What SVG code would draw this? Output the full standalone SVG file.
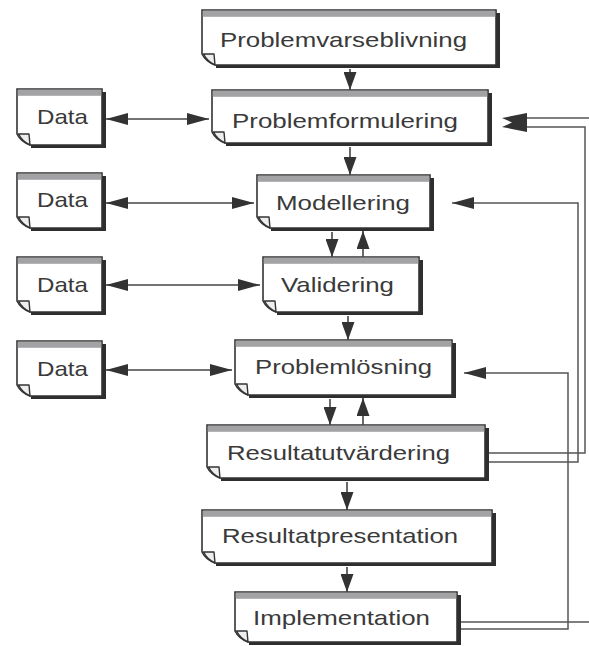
<svg xmlns="http://www.w3.org/2000/svg" width="589" height="646" viewBox="0 0 589 646">
<defs>
<style>
.sh{fill:#2e2e2e}
.bx{fill:#fff;stroke:#333;stroke-width:1.6}
.bd{fill:#a3a3a6}
.fl{fill:#eee;stroke:#333;stroke-width:1.4;stroke-linejoin:round}
.tx{font-family:"Liberation Sans",Arial,Helvetica,sans-serif;font-size:21px;fill:#3a3a3a}
.ln{fill:none;stroke:#444;stroke-width:1.6}
.dl{fill:none;stroke:#555;stroke-width:1.5}
</style>
<marker id="ah" viewBox="0 0 18 13" refX="18" refY="6.5" markerWidth="18" markerHeight="13" markerUnits="userSpaceOnUse" orient="auto-start-reverse"><path d="M0,0 L18,6.5 L0,13 Z" fill="#333"/></marker>
<marker id="ahh" viewBox="0 0 22 12" refX="22" refY="6" markerWidth="22" markerHeight="12" markerUnits="userSpaceOnUse" orient="auto-start-reverse"><path d="M0,0 L22,6 L0,12 Z" fill="#333"/></marker>
</defs>
<rect width="589" height="646" fill="#fff"/>

<g id="n1" transform="translate(202,10)">
<rect class="sh" x="14" y="3" width="284" height="55"/>
<path class="bx" d="M0,0 H294 V55 H13 Q4,52 0,44 Z"/>
<rect class="bd" x="0.8" y="0.8" width="292.4" height="6"/>
<path class="fl" d="M1.5,44 H12 L13,55 Q5,51 1.5,44 Z"/>
<text class="tx" x="18" y="37" textLength="247" lengthAdjust="spacingAndGlyphs">Problemvarseblivning</text>
</g>

<g id="n2" transform="translate(212,90)">
<rect class="sh" x="14" y="3" width="266" height="53"/>
<path class="bx" d="M0,0 H276 V53 H13 Q4,50 0,42 Z"/>
<rect class="bd" x="0.8" y="0.8" width="274.4" height="6"/>
<path class="fl" d="M1.5,42 H12 L13,53 Q5,49 1.5,42 Z"/>
<text class="tx" x="20" y="38" textLength="226" lengthAdjust="spacingAndGlyphs">Problemformulering</text>
</g>

<g id="n3" transform="translate(257,175)">
<rect class="sh" x="14" y="3" width="163" height="53"/>
<path class="bx" d="M0,0 H173 V53 H13 Q4,50 0,42 Z"/>
<rect class="bd" x="0.8" y="0.8" width="171.4" height="6"/>
<path class="fl" d="M1.5,42 H12 L13,53 Q5,49 1.5,42 Z"/>
<text class="tx" x="19" y="35" textLength="134" lengthAdjust="spacingAndGlyphs">Modellering</text>
</g>

<g id="n4" transform="translate(263,257)">
<rect class="sh" x="14" y="3" width="146" height="55"/>
<path class="bx" d="M0,0 H156 V55 H13 Q4,52 0,44 Z"/>
<rect class="bd" x="0.8" y="0.8" width="154.4" height="6"/>
<path class="fl" d="M1.5,44 H12 L13,55 Q5,51 1.5,44 Z"/>
<text class="tx" x="18" y="35" textLength="113" lengthAdjust="spacingAndGlyphs">Validering</text>
</g>

<g id="n5" transform="translate(235,340)">
<rect class="sh" x="14" y="3" width="207" height="55"/>
<path class="bx" d="M0,0 H217 V55 H13 Q4,52 0,44 Z"/>
<rect class="bd" x="0.8" y="0.8" width="215.4" height="6"/>
<path class="fl" d="M1.5,44 H12 L13,55 Q5,51 1.5,44 Z"/>
<text class="tx" x="20" y="34" textLength="177" lengthAdjust="spacingAndGlyphs">Problemlösning</text>
</g>

<g id="n6" transform="translate(207,425)">
<rect class="sh" x="14" y="3" width="268" height="53"/>
<path class="bx" d="M0,0 H278 V53 H13 Q4,50 0,42 Z"/>
<rect class="bd" x="0.8" y="0.8" width="276.4" height="6"/>
<path class="fl" d="M1.5,42 H12 L13,53 Q5,49 1.5,42 Z"/>
<text class="tx" x="20" y="35" textLength="223" lengthAdjust="spacingAndGlyphs">Resultatutvärdering</text>
</g>

<g id="n7" transform="translate(202,510)">
<rect class="sh" x="14" y="3" width="280" height="53"/>
<path class="bx" d="M0,0 H290 V53 H13 Q4,50 0,42 Z"/>
<rect class="bd" x="0.8" y="0.8" width="288.4" height="6"/>
<path class="fl" d="M1.5,42 H12 L13,53 Q5,49 1.5,42 Z"/>
<text class="tx" x="20" y="33" textLength="236" lengthAdjust="spacingAndGlyphs">Resultatpresentation</text>
</g>

<g id="n8" transform="translate(235,592)">
<rect class="sh" x="14" y="3" width="212" height="50"/>
<path class="bx" d="M0,0 H222 V50 H13 Q4,47 0,39 Z"/>
<rect class="bd" x="0.8" y="0.8" width="220.4" height="6"/>
<path class="fl" d="M1.5,39 H12 L13,50 Q5,46 1.5,39 Z"/>
<text class="tx" x="18" y="33" textLength="177" lengthAdjust="spacingAndGlyphs">Implementation</text>
</g>

<g id="d1" transform="translate(17,89)">
<rect class="sh" x="14" y="3" width="75" height="56"/>
<path class="bx" d="M0,0 H85 V56 H13 Q4,53 0,45 Z"/>
<rect class="bd" x="0.8" y="0.8" width="83.4" height="6"/>
<path class="fl" d="M1.5,45 H12 L13,56 Q5,52 1.5,45 Z"/>
<text class="tx" x="20" y="35" textLength="51" lengthAdjust="spacingAndGlyphs">Data</text>
</g>

<g id="d2" transform="translate(17,173)">
<rect class="sh" x="14" y="3" width="75" height="55"/>
<path class="bx" d="M0,0 H85 V55 H13 Q4,52 0,44 Z"/>
<rect class="bd" x="0.8" y="0.8" width="83.4" height="6"/>
<path class="fl" d="M1.5,44 H12 L13,55 Q5,51 1.5,44 Z"/>
<text class="tx" x="20" y="34" textLength="51" lengthAdjust="spacingAndGlyphs">Data</text>
</g>

<g id="d3" transform="translate(17,257)">
<rect class="sh" x="14" y="3" width="75" height="55"/>
<path class="bx" d="M0,0 H85 V55 H13 Q4,52 0,44 Z"/>
<rect class="bd" x="0.8" y="0.8" width="83.4" height="6"/>
<path class="fl" d="M1.5,44 H12 L13,55 Q5,51 1.5,44 Z"/>
<text class="tx" x="20" y="35" textLength="51" lengthAdjust="spacingAndGlyphs">Data</text>
</g>

<g id="d4" transform="translate(17,341)">
<rect class="sh" x="14" y="3" width="75" height="55"/>
<path class="bx" d="M0,0 H85 V55 H13 Q4,52 0,44 Z"/>
<rect class="bd" x="0.8" y="0.8" width="83.4" height="6"/>
<path class="fl" d="M1.5,44 H12 L13,55 Q5,51 1.5,44 Z"/>
<text class="tx" x="20" y="35" textLength="51" lengthAdjust="spacingAndGlyphs">Data</text>
</g>

<g id="connectors">
<path class="ln" d="M350,69 V90" marker-end="url(#ah)"/>
<path class="ln" d="M350,147 V175" marker-end="url(#ah)"/>
<path class="ln" d="M332,232 V257" marker-end="url(#ah)"/>
<path class="ln" d="M363,257 V231" marker-end="url(#ah)"/>
<path class="ln" d="M348,316 V340" marker-end="url(#ah)"/>
<path class="ln" d="M330,399 V425" marker-end="url(#ah)"/>
<path class="ln" d="M363,425 V398" marker-end="url(#ah)"/>
<path class="ln" d="M347,482 V510" marker-end="url(#ah)"/>
<path class="ln" d="M347,567 V592" marker-end="url(#ah)"/>

<path class="ln" d="M106,119 H209" marker-start="url(#ahh)" marker-end="url(#ahh)"/>
<path class="ln" d="M106,203 H254" marker-start="url(#ahh)" marker-end="url(#ahh)"/>
<path class="ln" d="M106,285 H260" marker-start="url(#ahh)" marker-end="url(#ahh)"/>
<path class="ln" d="M106,370 H232" marker-start="url(#ahh)" marker-end="url(#ahh)"/>

<path class="dl" d="M489,462 H578 V203 H452" marker-end="url(#ahh)"/>
<path class="dl" d="M461,629 H568 V373 H464" marker-end="url(#ahh)"/>
<path class="dl" d="M489,453 H585 V127 H520"/>
<path class="dl" d="M589,118 H520"/>
<path class="dl" d="M461,622 H589"/>
<path d="M502,118 L527,113 L527,132 L502,127 L512,122.5 Z" fill="#333"/>
</g>
</svg>
